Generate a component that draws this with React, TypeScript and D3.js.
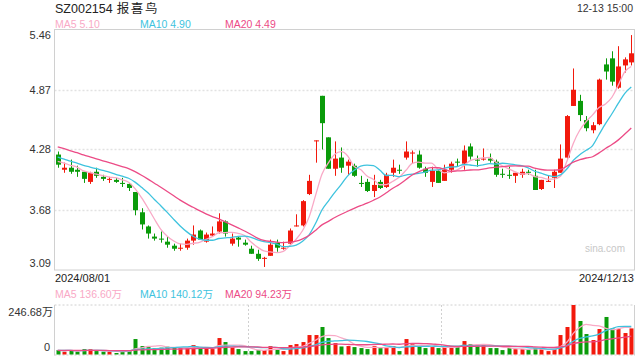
import React from "react";
import * as d3 from "d3";

const TITLE_CODE = "SZ002154";
const TITLE_NAME = "报喜鸟";
const TIME_LABEL = "12-13 15:00";
const DATE_LABELS = ["2024/08/01", "2024/12/13"];
const PRICE_TICKS = [5.46, 4.87, 4.28, 3.68, 3.09];
const VOL_TICKS = ["246.68万", "0"];
const VOL_MAX = 246.68;
const PRICE_LEGEND = ["MA5 5.10", "MA10 4.90", "MA20 4.49"];
const VOL_LEGEND = ["MA5 136.60万", "MA10 140.12万", "MA20 94.23万"];

const open = [
  4.23, 4.08, 4.10, 4.08, 4.06, 3.96, 4.06, 4.01, 3.98, 3.98,
  3.95, 3.94, 3.86, 3.66, 3.52, 3.42, 3.40, 3.37, 3.33, 3.30,
  3.31, 3.38, 3.48, 3.37, 3.43, 3.47, 3.57, 3.35, 3.41, 3.36,
  3.30, 3.25, 3.20, 3.23, 3.36, 3.30, 3.35, 3.52, 3.53, 3.84,
  4.36, 4.81, 4.40, 4.09, 4.20, 4.12, 4.12, 3.95, 3.96, 3.87,
  3.96, 3.91, 4.05, 4.08, 4.20, 4.24, 4.23, 4.09, 3.96, 4.07,
  3.97, 4.08, 4.16, 4.14, 4.31, 4.18, 4.18, 4.19, 4.16, 4.04,
  4.03, 4.02, 4.03, 4.06, 4.02, 3.89, 3.96, 4.00, 4.05, 4.20,
  4.71, 4.76, 4.57, 4.47, 4.53, 5.12, 5.18, 4.89, 5.11, 5.14,
];
const close = [
  4.13, 4.10, 4.06, 4.06, 3.99, 4.05, 4.02, 3.99, 3.99, 3.96,
  3.94, 3.90, 3.68, 3.54, 3.45, 3.40, 3.39, 3.34, 3.30, 3.31,
  3.38, 3.44, 3.39, 3.44, 3.45, 3.57, 3.45, 3.40, 3.39, 3.34,
  3.25, 3.20, 3.21, 3.34, 3.31, 3.31, 3.48, 3.53, 3.77, 3.97,
  4.37, 4.54, 4.09, 4.19, 4.10, 4.16, 4.02, 3.94, 3.87, 3.93,
  3.90, 4.03, 4.10, 4.07, 4.26, 4.25, 4.10, 4.05, 4.07, 3.95,
  4.08, 4.14, 4.15, 4.27, 4.21, 4.17, 4.19, 4.17, 4.03, 4.03,
  4.02, 4.05, 4.06, 4.05, 3.88, 3.98, 3.97, 4.06, 4.19, 4.61,
  4.87, 4.62, 4.49, 4.52, 4.97, 5.05, 4.95, 5.10, 5.17, 5.23,
];
const high = [
  4.26, 4.15, 4.18, 4.12, 4.06, 4.06, 4.10, 4.03, 4.01, 4.00,
  4.00, 3.95, 3.86, 3.70, 3.53, 3.45, 3.47, 3.42, 3.35, 3.35,
  3.40, 3.53, 3.49, 3.46, 3.52, 3.65, 3.58, 3.45, 3.42, 3.39,
  3.33, 3.29, 3.22, 3.39, 3.39, 3.37, 3.50, 3.64, 3.78, 4.03,
  4.37, 4.81, 4.40, 4.36, 4.30, 4.18, 4.14, 4.02, 3.99, 4.03,
  3.98, 4.05, 4.18, 4.13, 4.36, 4.27, 4.27, 4.11, 4.11, 4.08,
  4.13, 4.16, 4.19, 4.32, 4.34, 4.22, 4.29, 4.24, 4.18, 4.09,
  4.11, 4.05, 4.09, 4.08, 4.08, 3.98, 4.02, 4.08, 4.33, 4.62,
  5.08, 4.82, 4.61, 4.55, 4.98, 5.18, 5.25, 5.30, 5.19, 5.41,
];
const low = [
  4.10, 4.05, 4.04, 4.01, 3.95, 3.94, 4.00, 3.97, 3.95, 3.95,
  3.91, 3.87, 3.63, 3.49, 3.40, 3.38, 3.36, 3.31, 3.28, 3.28,
  3.29, 3.34, 3.39, 3.36, 3.42, 3.45, 3.42, 3.33, 3.32, 3.33,
  3.25, 3.18, 3.12, 3.23, 3.27, 3.29, 3.34, 3.52, 3.52, 3.83,
  4.15, 4.28, 4.09, 4.02, 4.05, 4.03, 4.01, 3.91, 3.86, 3.81,
  3.89, 3.90, 4.01, 4.04, 4.18, 4.14, 4.09, 4.01, 3.91, 3.95,
  3.97, 4.05, 4.11, 4.08, 4.18, 4.11, 4.17, 4.15, 4.01, 4.00,
  3.99, 3.95, 4.00, 4.03, 3.88, 3.88, 3.96, 3.90, 4.05, 4.19,
  4.71, 4.56, 4.46, 4.44, 4.52, 4.97, 4.91, 4.88, 5.04, 5.11,
];
// volume in 万
const volume = [
  22, 14, 22, 14, 27, 27, 17, 14, 14, 7.5,
  22, 19, 77, 42, 39, 31, 34, 39, 34, 34,
  31, 47, 34, 31, 27, 82, 62, 34, 27, 17,
  17, 22, 22, 42, 27, 17, 47, 52, 62, 97,
  97, 137, 82, 57, 40, 42, 37, 32, 27, 42,
  32, 37, 42, 17, 77, 57, 42, 32, 37, 32,
  37, 42, 37, 67, 52, 45, 52, 32, 32, 22,
  32, 27, 27, 22, 32, 27, 17, 27, 97, 137,
  246.68, 167, 102, 72, 127, 187, 130, 127, 107, 130,
];
// estimated closes / volumes of the 19 sessions before the first visible one (MA seed)
const priorClose = [4.48, 4.46, 4.45, 4.42, 4.44, 4.40, 4.38, 4.36, 4.35, 4.33, 4.30, 4.28, 4.25, 4.22, 4.20, 4.18, 4.17, 4.15, 4.18];
const priorVolume = [18, 22, 20, 25, 19, 21, 17, 23, 20, 18, 22, 19, 24, 20, 18, 21, 19, 23, 20];

const RED = "#f2190c";
const GREEN = "#0a9b0a";
const MA_COLORS = ["#f9a9c6", "#3ec3de", "#ec4b86"];
const MA_PERIODS = [5, 10, 20];
const FONT = "Arial, 'Liberation Sans', 'Noto Sans CJK SC', sans-serif";

function movingAvg(prior: number[], vals: number[], n: number): number[] {
  const all = prior.concat(vals);
  const off = prior.length;
  return vals.map((_, i) => {
    const end = off + i;
    const slice = all.slice(end - n + 1, end + 1);
    return d3.mean(slice) as number;
  });
}

export default function App() {
  const W = 640, H = 360;
  const L = 54.5, R = 634.5;
  const PT = 30, PB = 270;
  const VT = 305, VB = 354.5;
  const idx = d3.range(close.length);

  const x = d3.scaleBand<number>().domain(idx).range([L, R]).paddingInner(0.28).paddingOuter(0.14);
  const cx = (i: number) => (x(i) as number) + x.bandwidth() / 2;
  const y = d3.scaleLinear().domain([3.09, 5.46]).range([PB, PT]);
  const yv = d3.scaleLinear().domain([0, VOL_MAX]).range([VB, VT]);

  const priceMA = MA_PERIODS.map((n) => movingAvg(priorClose, close, n));
  const volMA = MA_PERIODS.map((n) => movingAvg(priorVolume, volume, n));

  const line = d3.line<number>().x((_, i) => cx(i)).y((d) => y(d)).curve(d3.curveMonotoneX);
  const vline = d3.line<number>().x((_, i) => cx(i)).y((d) => yv(d)).curve(d3.curveMonotoneX);

  const gridVals = PRICE_TICKS.slice(1, -1);
  const thirds = [L + (R - L) / 3, L + (2 * (R - L)) / 3];
  const legendX = [55, 140, 225];

  return (
    <svg width={W} height={H} style={{ position: "absolute", left: 0, top: 0, background: "#fff" }} fontFamily={FONT}>
      <text x={55} y={13} fontSize={12.5} fill="#222">
        {TITLE_CODE}
        <tspan dx={4} letterSpacing={1.6}>{TITLE_NAME}</tspan>
      </text>
      <text x={633} y={12} fontSize={10.5} fill="#333" textAnchor="end">{TIME_LABEL}</text>
      {PRICE_LEGEND.map((t, k) => (
        <text key={t} x={legendX[k]} y={27.5} fontSize={10.5} fill={MA_COLORS[k]}>{t}</text>
      ))}

      {/* price grid */}
      {gridVals.map((v) => (
        <line key={v} x1={L} x2={R} y1={Math.round(y(v)) + 0.5} y2={Math.round(y(v)) + 0.5} stroke="#e2e2e2" strokeWidth={1.5} strokeDasharray="2,2" />
      ))}
      <rect x={L} y={PT - 0.5} width={R - L} height={PB - PT + 0.5} fill="none" stroke="#d0d0d0" strokeWidth={1} />

      {PRICE_TICKS.map((v, k) => {
        const yy = y(v);
        const by = k === 0 ? yy + 8.5 : k === PRICE_TICKS.length - 1 ? yy - 3 : yy + 4;
        return (
          <text key={v} x={51} y={by} fontSize={11} fill="#333" textAnchor="end">{v.toFixed(2)}</text>
        );
      })}

      <text x={605} y={252} fontSize={10} fill="#c8c8c8" textAnchor="middle">sina.com</text>

      {/* candles */}
      {idx.map((i) => {
        const up = close[i] >= open[i];
        const col = up ? RED : GREEN;
        const c = Math.round(cx(i));
        const top = y(Math.max(open[i], close[i]));
        const bot = y(Math.min(open[i], close[i]));
        const bh = Math.max(1, bot - top);
        return (
          <g key={i}>
            <line x1={c + 0.5} x2={c + 0.5} y1={y(high[i])} y2={y(low[i])} stroke={col} strokeWidth={1} />
            <rect x={c - 2} y={top} width={5} height={bh} fill={col} />
          </g>
        );
      })}

      {priceMA.map((arr, k) => (
        <path key={k} d={line(arr) as string} fill="none" stroke={MA_COLORS[k]} strokeWidth={1.3} />
      ))}

      <text x={55} y={282} fontSize={11} fill="#222">{DATE_LABELS[0]}</text>
      <text x={634} y={282} fontSize={11} fill="#222" textAnchor="end">{DATE_LABELS[1]}</text>

      {VOL_LEGEND.map((t, k) => (
        <text key={t} x={legendX[k]} y={298} fontSize={10.5} fill={MA_COLORS[k]}>{t}</text>
      ))}

      {/* volume panel */}
      <line x1={L} x2={R} y1={VT} y2={VT} stroke="#d0d0d0" strokeWidth={1} strokeDasharray="2,2" />
      <line x1={L} x2={R} y1={VB + 0.5} y2={VB + 0.5} stroke="#d0d0d0" strokeWidth={1} strokeDasharray="2,2" />
      <line x1={L} x2={L} y1={VT} y2={VB + 1} stroke="#d0d0d0" strokeWidth={1} />
      <line x1={R} x2={R} y1={VT} y2={VB + 1} stroke="#d0d0d0" strokeWidth={1} />
      {thirds.map((t) => (
        <line key={t} x1={Math.round(t) + 0.5} x2={Math.round(t) + 0.5} y1={VT} y2={VB} stroke="#d0d0d0" strokeWidth={1} strokeDasharray="2,2" />
      ))}
      <text x={53} y={316} fontSize={11} fill="#333" textAnchor="end">{VOL_TICKS[0]}</text>
      <text x={50} y={351} fontSize={11} fill="#333" textAnchor="end">{VOL_TICKS[1]}</text>

      {idx.map((i) => {
        const up = close[i] >= open[i];
        const c = Math.round(cx(i));
        const t = yv(volume[i]);
        return <rect key={i} x={c - 1.5} y={t} width={4} height={VB - t} fill={up ? RED : GREEN} />;
      })}
      {volMA.map((arr, k) => (
        <path key={k} d={vline(arr) as string} fill="none" stroke={MA_COLORS[k]} strokeWidth={1.3} />
      ))}
    </svg>
  );
}
